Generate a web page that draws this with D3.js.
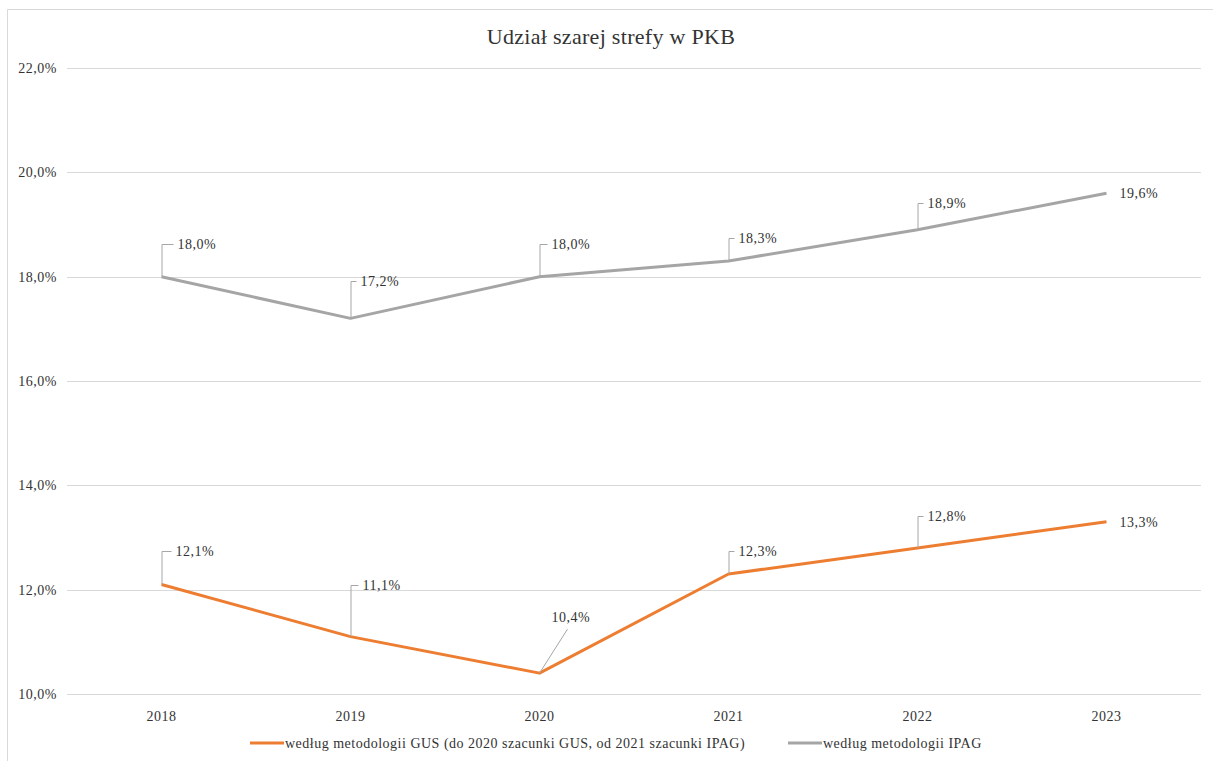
<!DOCTYPE html>
<html>
<head>
<meta charset="utf-8">
<script src="https://cdn.jsdelivr.net/npm/d3@7"></script>
<style>
  body { margin: 0; background: #fff; }
  text { font-family: "Liberation Serif", "Times New Roman", serif; fill: #333; letter-spacing: 0.5px; }
</style>
</head>
<body>
<div id="chart"></div>
<script>
var years = ["2018", "2019", "2020", "2021", "2022", "2023"];
var gusValues = [12.1, 11.1, 10.4, 12.3, 12.8, 13.3];
var ipagValues = [18.0, 17.2, 18.0, 18.3, 18.9, 19.6];
var yTicks = [10, 12, 14, 16, 18, 20, 22];
var seriesNames = [
  "według metodologii GUS (do 2020 szacunki GUS, od 2021 szacunki IPAG)",
  "według metodologii IPAG"
];

// label offsets in px (dx, dy) from the point, like dragged Excel data labels
var gusLabelOff = [[14, -33], [12, -52], [12, -56], [10, -23], [10, -32], [13, 0]];
var ipagLabelOff = [[16, -33], [10, -37], [12, -33], [10, -23], [10, -27], [13, 0]];

var w = 1213, h = 761;
var plotLeft = 67, plotRight = 1201, plotTop = 68, plotBottom = 694;

var svg = d3.select("#chart").append("svg")
  .attr("width", w)
  .attr("height", h);

// outer chart border (left + top visible)
svg.append("path")
  .attr("d", "M7.5," + h + "V9.5H" + w)
  .attr("fill", "none")
  .attr("stroke", "#d9d9d9");

var x = d3.scaleBand().domain(years).range([plotLeft, plotRight]);
var y = d3.scaleLinear().domain([10, 22]).range([plotBottom, plotTop]);

var fmt = function(v) { return v.toFixed(1).replace(".", ",") + "%"; };

// gridlines
svg.append("g").selectAll("line")
  .data(yTicks)
  .enter().append("line")
  .attr("x1", plotLeft).attr("x2", plotRight)
  .attr("y1", function(d) { return Math.round(y(d)) + 0.5; })
  .attr("y2", function(d) { return Math.round(y(d)) + 0.5; })
  .attr("stroke", "#d9d9d9")
  .attr("stroke-width", 1);

// y axis labels
svg.append("g").selectAll("text")
  .data(yTicks)
  .enter().append("text")
  .attr("x", 57)
  .attr("y", function(d) { return y(d); })
  .attr("dy", "0.35em")
  .attr("text-anchor", "end")
  .attr("font-size", 14)
  .text(fmt);

// x axis labels
svg.append("g").selectAll("text")
  .data(years)
  .enter().append("text")
  .attr("x", function(d) { return x(d) + x.bandwidth() / 2; })
  .attr("y", 716)
  .attr("dy", "0.35em")
  .attr("text-anchor", "middle")
  .attr("font-size", 14)
  .text(function(d) { return d; });

// title
svg.append("text")
  .attr("x", 611)
  .attr("y", 36)
  .attr("dy", "0.35em")
  .attr("text-anchor", "middle")
  .attr("font-size", 22)
  .attr("fill", "#262626")
  .style("letter-spacing", "0.3px")
  .text("Udział szarej strefy w PKB");

var line = d3.line()
  .x(function(d, i) { return x(years[i]) + x.bandwidth() / 2; })
  .y(function(d) { return y(d); });

function drawSeries(values, offsets, color, diagonalIdx) {
  svg.append("path")
    .datum(values)
    .attr("d", line)
    .attr("fill", "none")
    .attr("stroke", color)
    .attr("stroke-width", 3)
    .attr("stroke-linejoin", "round");

  var g = svg.append("g");
  values.forEach(function(v, i) {
    var px = x(years[i]) + x.bandwidth() / 2;
    var py = y(v);
    var o = offsets[i];
    var lx = px + o[0], ly = py + o[1];
    if (o[1] !== 0) {
      var d;
      if (i === diagonalIdx) {
        d = "M" + px + "," + py + "L" + (px + 28) + "," + (ly + 12);
      } else {
        d = "M" + (px + 0.5) + "," + py + "V" + (Math.round(ly) + 0.5) + "H" + (lx - 4);
      }
      g.append("path")
        .attr("d", d)
        .attr("fill", "none")
        .attr("stroke", "#a6a6a6")
        .attr("stroke-width", 1);
    }
    g.append("text")
      .attr("x", lx)
      .attr("y", ly)
      .attr("dy", "0.35em")
      .attr("font-size", 14)
      .text(fmt(v));
  });
}

drawSeries(ipagValues, ipagLabelOff, "#a5a5a5", -1);
drawSeries(gusValues, gusLabelOff, "#ed7d31", 2);

// legend
var legend = svg.append("g");
var lgX = [250, 788];
var lgColors = ["#ed7d31", "#a5a5a5"];
seriesNames.forEach(function(name, i) {
  legend.append("line")
    .attr("x1", lgX[i]).attr("x2", lgX[i] + 34)
    .attr("y1", 743).attr("y2", 743)
    .attr("stroke", lgColors[i])
    .attr("stroke-width", 3);
  legend.append("text")
    .attr("x", lgX[i] + 35)
    .attr("y", 743)
    .attr("dy", "0.35em")
    .attr("font-size", 14)
    .text(name);
});
</script>
</body>
</html>
